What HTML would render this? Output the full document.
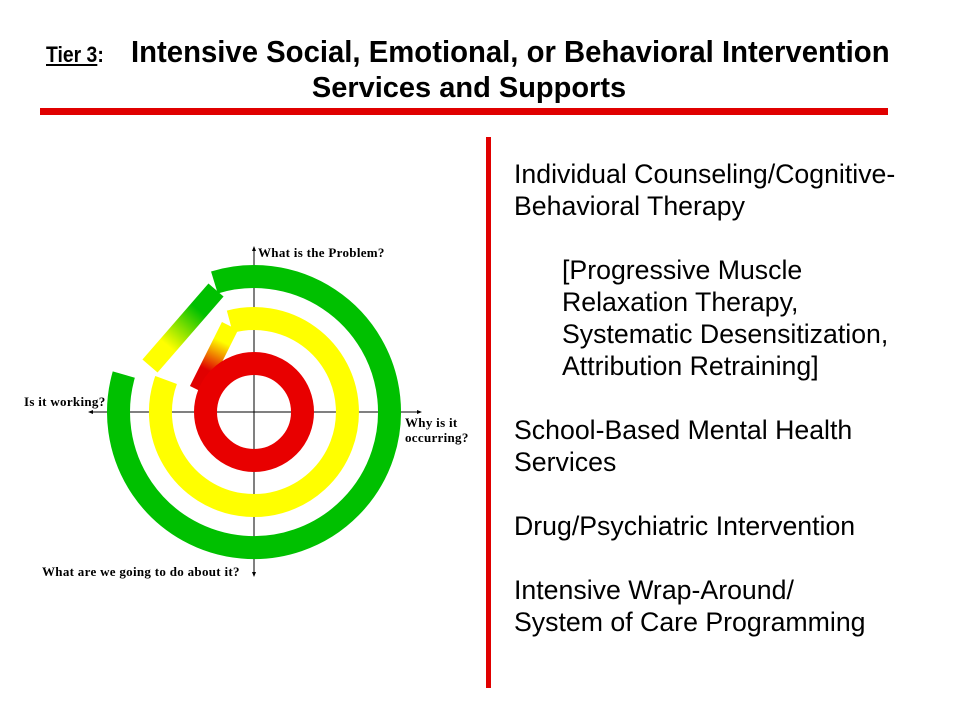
<!DOCTYPE html>
<html><head><meta charset="utf-8"><style>
body{margin:0;width:960px;height:720px;background:#fff;position:relative;overflow:hidden;font-family:"Liberation Sans",Arial,sans-serif}
.t{position:absolute;white-space:nowrap;color:#000}
.r{position:absolute;font-size:26.7px;line-height:32px;left:514px;white-space:nowrap}
.lab{font-family:"Liberation Serif","DejaVu Serif",serif;font-weight:bold;font-size:13px;letter-spacing:0.3px;position:absolute;white-space:nowrap;line-height:15px}
</style></head><body>
<div class="t" style="left:46px;top:42px;font-size:22px;font-weight:bold;transform:scaleX(0.88);transform-origin:0 0"><u>Tier 3</u>:</div>
<div class="t" style="left:131px;top:34px;font-size:31px;font-weight:bold;transform:scaleX(0.945);transform-origin:0 0">Intensive Social, Emotional, or Behavioral Intervention</div>
<div class="t" style="left:0;width:938px;text-align:center;top:72px;font-size:29px;font-weight:bold">Services and Supports</div>
<div style="position:absolute;left:40px;top:108px;width:848px;height:7px;background:#e00000"></div>
<div style="position:absolute;left:486px;top:137px;width:5px;height:551px;background:#e00000"></div>

<div class="r" style="top:158px">Individual Counseling/Cognitive-</div>
<div class="r" style="top:190px">Behavioral Therapy</div>
<div class="r" style="top:254px;left:562px">[Progressive Muscle</div>
<div class="r" style="top:286px;left:562px">Relaxation Therapy,</div>
<div class="r" style="top:318px;left:562px">Systematic Desensitization,</div>
<div class="r" style="top:350px;left:562px">Attribution Retraining]</div>
<div class="r" style="top:414px">School-Based Mental Health</div>
<div class="r" style="top:446px">Services</div>
<div class="r" style="top:510px">Drug/Psychiatric Intervention</div>
<div class="r" style="top:574px">Intensive Wrap-Around/</div>
<div class="r" style="top:606px">System of Care Programming</div>

<svg width="960" height="720" style="position:absolute;left:0;top:0">
<defs>
<linearGradient id="gy" x1="212" y1="290" x2="150" y2="362" gradientUnits="userSpaceOnUse"><stop offset="0.25" stop-color="#00c000"/><stop offset="0.75" stop-color="#ffff00"/></linearGradient>
<linearGradient id="yr" x1="228" y1="330" x2="200" y2="388" gradientUnits="userSpaceOnUse"><stop offset="0.2" stop-color="#ffff00"/><stop offset="0.7" stop-color="#e00000"/></linearGradient>
</defs>
<line x1="90" y1="412" x2="420" y2="412" stroke="#000" stroke-width="1"/>
<line x1="254" y1="248" x2="254" y2="575" stroke="#000" stroke-width="1"/>
<polygon points="88,412 93,410 93,414" fill="#000"/>
<polygon points="422,412 417,410 417,414" fill="#000"/>
<polygon points="254,246 252,251 256,251" fill="#000"/>
<polygon points="254,577 252,572 256,572" fill="#000"/>
<path d="M123.8,374.6 A135.5,135.5 0 1 0 214.4,282.5" fill="none" stroke="#00c000" stroke-width="23"/>
<line x1="216" y1="290" x2="150" y2="366" stroke="url(#gy)" stroke-width="20"/>
<path d="M166.1,380 A93.5,93.5 0 1 0 229.8,321.7" fill="none" stroke="#ffff00" stroke-width="23"/>
<line x1="230" y1="326" x2="198" y2="390" stroke="url(#yr)" stroke-width="18"/>
<circle cx="254" cy="412" r="48.5" fill="none" stroke="#e80000" stroke-width="23"/>
</svg>
<div class="lab" style="left:258px;top:245px">What is the Problem?</div>
<div class="lab" style="left:24px;top:394px">Is it working?</div>
<div class="lab" style="left:405px;top:415px">Why is it<br>occurring?</div>
<div class="lab" style="left:42px;top:564px">What are we going to do about it?</div>
</body></html>
